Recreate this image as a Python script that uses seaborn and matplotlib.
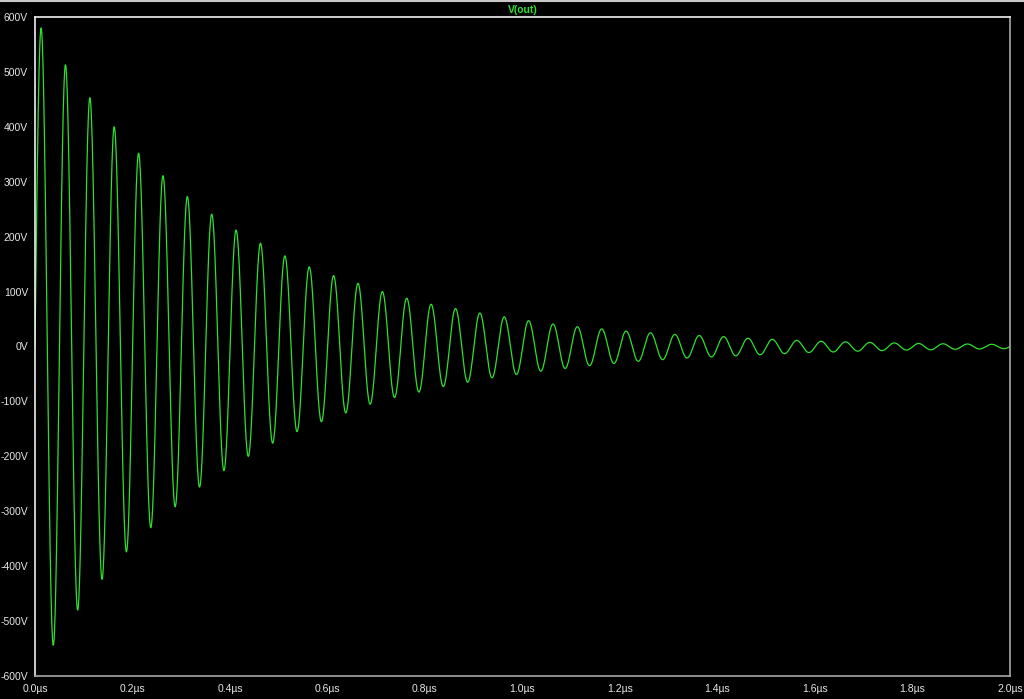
import numpy as np
import pandas as pd
import matplotlib
matplotlib.use("Agg")
import matplotlib.pyplot as plt
from matplotlib.lines import Line2D
import seaborn as sns

# extrema of V(out) (time in us, value in V)
peak_t = [0.0125, 0.0625, 0.1125, 0.1625, 0.2125, 0.2625, 0.3125, 0.3625,
          0.4125, 0.4625, 0.5125, 0.5625, 0.6125, 0.6625, 0.7125, 0.7625,
          0.8125, 0.8625, 0.9125, 0.9625, 1.0125, 1.0625, 1.1125, 1.1625,
          1.2125, 1.2625, 1.3125, 1.3625, 1.4125, 1.4625, 1.5125, 1.5625,
          1.6125, 1.6625, 1.7125, 1.7625, 1.8125, 1.8625, 1.9125, 1.9625]
peak_v = [580, 513, 453, 400, 352, 311, 273, 241, 212, 188,
          165, 145, 129, 115, 100, 88, 77, 69, 61, 54,
          47, 41, 36, 32, 28, 25, 22, 20, 18, 15,
          13, 11, 9.5, 8.5, 7.5, 6.5, 5.5, 5, 4.5, 4]
trough_t = [0.0375, 0.0875, 0.1375, 0.1875, 0.2375, 0.2875, 0.3375, 0.3875,
            0.4375, 0.4875, 0.5375, 0.5875, 0.6375, 0.6875, 0.7375, 0.7875,
            0.8375, 0.8875, 0.9375, 0.9875, 1.0375, 1.0875, 1.1375, 1.1875,
            1.2375, 1.2875, 1.3375, 1.3875, 1.4375, 1.4875, 1.5375, 1.5875,
            1.6375, 1.6875, 1.7375, 1.7875, 1.8375, 1.8875, 1.9375, 1.9875]
trough_v = [-544, -480, -424, -374, -330, -292, -256, -226, -200, -176,
            -155, -137, -121, -105, -93, -83, -73, -65, -57, -51,
            -45, -40, -35, -31, -27, -24, -21, -19, -17, -15,
            -13, -11, -10, -8.5, -7.5, -6.5, -6, -5, -4.5, -4]
start_t, start_v = 0.0, 0.0
end_t, end_v = 2.0, 0.0

y_ticks = [-600, -500, -400, -300, -200, -100, 0, 100, 200, 300, 400, 500, 600]
y_labels = ["-600V", "-500V", "-400V", "-300V", "-200V", "-100V", "0V",
            "100V", "200V", "300V", "400V", "500V", "600V"]
x_ticks = [0.0, 0.2, 0.4, 0.6, 0.8, 1.0, 1.2, 1.4, 1.6, 1.8, 2.0]
x_labels = ["0.0µs", "0.2µs", "0.4µs", "0.6µs", "0.8µs", "1.0µs",
            "1.2µs", "1.4µs", "1.6µs", "1.8µs", "2.0µs"]

# order the extrema in time and draw a smooth wave between them
ext_t = [start_t]
ext_v = [start_v]
for pt, pv, tt, tv in zip(peak_t, peak_v, trough_t, trough_v):
    ext_t += [pt, tt]
    ext_v += [pv, tv]
ext_t.append(end_t)
ext_v.append(end_v)

ts, vs = [], []
n_seg = len(ext_t) - 1
for i in range(n_seg):
    s = np.linspace(0, 1, 60, endpoint=False)
    t0, t1, v0, v1 = ext_t[i], ext_t[i + 1], ext_v[i], ext_v[i + 1]
    if i == 0:
        w = np.sin(s * np.pi / 2)
    elif i == n_seg - 1:
        w = 1 - np.cos(s * np.pi / 2)
    else:
        w = (1 - np.cos(s * np.pi)) / 2
    ts.append(t0 + (t1 - t0) * s)
    vs.append(v0 + (v1 - v0) * w)
ts.append([end_t])
vs.append([end_v])
df = pd.DataFrame({"t": np.concatenate(ts), "v": np.concatenate(vs)})

sns.set_style("dark")
plt.rcParams["font.family"] = ["Liberation Sans", "DejaVu Sans"]

fig = plt.figure(figsize=(10.24, 6.99), dpi=100, facecolor="black")
ax = fig.add_axes([35 / 1024, 23 / 699, 975 / 1024, 659 / 699])
ax.set_facecolor("black")

sns.lineplot(data=df, x="t", y="v", ax=ax, color="#2ee02e", linewidth=0.9,
             estimator=None, sort=False)

ax.set_xlim(0, 2.0)
ax.set_ylim(-600, 600)
ax.set_xticks(x_ticks)
ax.set_xticklabels(x_labels)
ax.set_yticks(y_ticks)
ax.set_yticklabels(y_labels)
ax.set_xlabel("")
ax.set_ylabel("")
ax.grid(False)

ax.tick_params(axis="y", direction="out", length=4, width=1, color="white",
               labelcolor="#e6e6e6", labelsize=7.5, pad=1)
ax.tick_params(axis="x", direction="inout", length=7, width=1, color="white",
               labelcolor="#e6e6e6", labelsize=7.5, pad=2)
for side in ["top", "left"]:
    ax.spines[side].set_color("#f0f0f0")
for side in ["bottom", "right"]:
    ax.spines[side].set_color("#a8a8a8")
for sp in ax.spines.values():
    sp.set_linewidth(1.2)
    sp.set_visible(True)

ax.set_title("V(out)", color="#2ee02e", fontsize=7.5, fontweight="bold", pad=3)
fig.add_artist(Line2D([0, 1], [0.999, 0.999], transform=fig.transFigure,
                      color="#c8c8c8", linewidth=1.5))

fig.savefig("out.png", dpi=100, facecolor="black")
